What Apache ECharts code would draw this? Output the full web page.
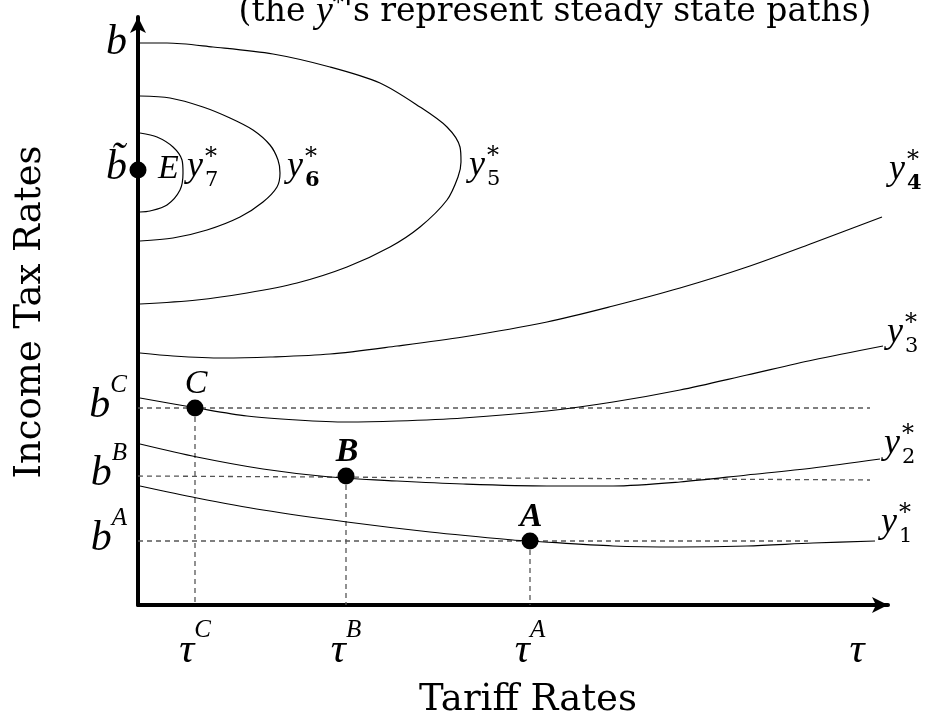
<!DOCTYPE html>
<html><head><meta charset="utf-8">
<script src="https://cdn.jsdelivr.net/npm/echarts@6/dist/echarts.min.js"></script>
<style>html,body{margin:0;padding:0;background:#fff}#c{width:925px;height:723px}</style>
</head><body><div id="c"></div>
<script>
// Steady-state paths (x = tariff, y = income tax)
const y1 = [[2,119],[59,107],[125,95],[209,83],[292,73],[375,65],[392,64],[475,59],[542,58],[609,59],[675,62],[737,64]];
const y2 = [[2,161],[59,148],[125,136],[192,128],[259,124],[325,121],[409,119],[475,119],[542,123],[609,130],[675,137],[742,146]];
const y3 = [[2,207],[59,197],[109,189],[159,185],[209,183],[259,184],[325,187],[409,194],[475,203],[542,215],[609,230],[675,245],[745,259]];
const y4 = [[2,252],[35,249],[85,247],[132,248],[192,251],[259,259],[325,268],[409,283],[475,299],[542,317],[609,338],[675,362],[744,388]];
const y5 = [[2,562],[29,562],[75,558],[135,551],[192,538],[242,522],[282,498],[309,478],[322,458],[323,443],[320,428],[309,405],[282,378],[252,358],[209,338],[159,322],[109,312],[59,305],[2,301]];
const y6 = [[2,509],[32,507],[65,498],[92,487],[115,475],[132,460],[140,445],[142,432],[139,418],[125,403],[102,388],[69,375],[35,367],[2,364]];
const y7 = [[2,472],[19,468],[35,458],[44,445],[45,432],[42,415],[29,400],[12,394],[2,393]];
const curves = [y1, y2, y3, y4, y5, y6, y7];

// Labelled points
const pointNames = ['E', 'C', 'B', 'A'];
const pointX = [0, 57, 208, 392];
const pointY = [435, 197, 129, 64];
const pointLabelBold = [false, false, true, true];

// Guide lines
const hLineC = [[0,197],[732,197]];
const vLineC = [[57,197],[57,0]];
const hLineB = [[0,129],[732,125]];
const vLineB = [[208,129],[208,0]];
const hLineA = [[0,64],[670,64]];
const vLineA = [[392,64],[392,0]];
const guides = [hLineC, vLineC, hLineB, vLineB, hLineA, vLineA];

// Tick labels
const xTickX = [57, 208, 392, 719];
const xTickSup = ['C', 'B', 'A', ''];
const yTickY = [560, 435, 197, 129, 64];
const yTickBase = ['b', 'b\u0303', 'b', 'b', 'b'];
const yTickSup = ['', '', 'C', 'B', 'A'];

// Curve labels y*_n
const curveLabelSub = ['1', '2', '3', '4', '5', '6', '7'];
const curveLabelX = [744, 747, 750, 752, 332, 150, 50];
const curveLabelY = [81, 160, 271, 434, 438, 437, 437];
const curveLabelBold = [false, false, false, true, false, true, false];

const MATH = 'Liberation Serif';
const TEXT = 'DejaVu Serif';

const chart = echarts.init(document.getElementById('c'), null, {renderer: 'canvas'});

const series = [];
guides.forEach(g => series.push({
  type: 'line', data: g, symbol: 'none', silent: true, z: 2,
  lineStyle: {color: '#555', width: 1.3, type: [5, 4]}
}));
curves.forEach(c => series.push({
  type: 'line', data: c, symbol: 'none', smooth: 0.3, silent: true, z: 3,
  lineStyle: {color: '#000', width: 1.2}
}));
const mathRich = {
  i: {fontFamily: MATH, fontStyle: 'italic', fontSize: 42, color: '#000', padding: [12, 0, 0, 0]},
  s: {fontFamily: MATH, fontStyle: 'italic', fontSize: 25, color: '#000', verticalAlign: 'top'}
};
series.push({
  type: 'scatter', silent: true, z: 6,
  data: pointNames.map((n, i) => ({
    name: n, value: [pointX[i], pointY[i]],
    label: {show: i > 0, fontWeight: pointLabelBold[i] ? 'bold' : 'normal'}
  })),
  symbolSize: 17, itemStyle: {color: '#000', opacity: 1},
  label: {
    show: true, position: 'top', distance: 0, offset: [1, 2], color: '#000',
    fontFamily: MATH, fontStyle: 'italic', fontSize: 34,
    formatter: p => p.name
  }
});
// y tick labels
series.push({
  type: 'scatter', silent: true, z: 5, symbolSize: 0, itemStyle: {opacity: 1},
  data: yTickY.map(v => [0, v]),
  label: {
    show: true, position: 'left', distance: 11, offset: [0, -8], color: '#000',
    formatter: p => '{i|' + yTickBase[p.dataIndex] + '}' + (yTickSup[p.dataIndex] ? '{s|' + yTickSup[p.dataIndex] + '}' : ''),
    rich: mathRich
  }
});
// x tick labels
series.push({
  type: 'scatter', silent: true, z: 5, symbolSize: 0, itemStyle: {opacity: 1},
  data: xTickX.map(v => [v, 0]),
  label: {
    show: true, position: 'bottom', distance: 13, color: '#000',
    formatter: p => '{i|\u03C4}' + (xTickSup[p.dataIndex] ? '{s|' + xTickSup[p.dataIndex] + '}' : ''),
    rich: mathRich
  }
});

const axisCommon = {
  type: 'value', axisTick: {show: false}, axisLabel: {show: false}, splitLine: {show: false},
  axisLine: {show: true, onZero: false, symbol: ['none', 'arrow'], symbolSize: [12, 16],
    lineStyle: {color: '#000', width: 4}}
};

chart.setOption({
  animation: false,
  backgroundColor: '#fff',
  grid: {left: 138, top: 17, width: 750, height: 588, containLabel: false},
  xAxis: Object.assign({}, axisCommon, {min: 0, max: 750}),
  yAxis: Object.assign({}, axisCommon, {min: 0, max: 588}),
  series: series
});

// E label (to the right of E)
const graphics = [];
const ePix = chart.convertToPixel({gridIndex: 0}, [pointX[0], pointY[0]]);
graphics.push({type: 'text', z: 10, x: ePix[0] + 20, y: ePix[1] - 1,
  style: {text: pointNames[0], font: 'italic 34px "' + MATH + '"', fill: '#000', align: 'left', verticalAlign: 'middle'}});

curveLabelSub.forEach((s, i) => {
  const p = chart.convertToPixel({gridIndex: 0}, [curveLabelX[i], curveLabelY[i]]);
  graphics.push({type: 'text', z: 10, x: p[0] - 1, y: p[1] - 1,
    style: {text: 'y', font: 'italic 36px "' + MATH + '"', fill: '#000', align: 'left', verticalAlign: 'middle'}});
  graphics.push({type: 'text', z: 10, x: p[0] + 17, y: p[1] - 10,
    style: {text: '*', font: '24px "' + TEXT + '"', fill: '#000', align: 'left', verticalAlign: 'middle'}});
  graphics.push({type: 'text', z: 10, x: p[0] + 17, y: p[1] + 13,
    style: {text: s, font: (curveLabelBold[i] ? 'bold ' : '') + '21px "' + TEXT + '"', fill: '#000', align: 'left', verticalAlign: 'middle'}});
});

// Title (cut at the top in the original), axis names
graphics.push({type: 'text', z: 10, x: 555, y: 12,
  style: {text: '(the {i|y}{s|*}\'s represent steady state paths)', font: '33px "' + TEXT + '"', fill: '#000',
    align: 'center', verticalAlign: 'middle',
    rich: {i: {fontFamily: MATH, fontStyle: 'italic', fontSize: 38}, s: {fontFamily: TEXT, fontSize: 22, verticalAlign: 'top'}}}});
graphics.push({type: 'text', z: 10, x: 528, y: 700,
  style: {text: 'Tariff Rates', font: '37px "' + TEXT + '"', fill: '#000', align: 'center', verticalAlign: 'middle'}});
graphics.push({type: 'text', z: 10, x: 30, y: 312, rotation: Math.PI / 2,
  style: {text: 'Income Tax Rates', font: '37px "' + TEXT + '"', fill: '#000', align: 'center', verticalAlign: 'middle'}});

chart.setOption({graphic: graphics});
</script>
</body></html>
